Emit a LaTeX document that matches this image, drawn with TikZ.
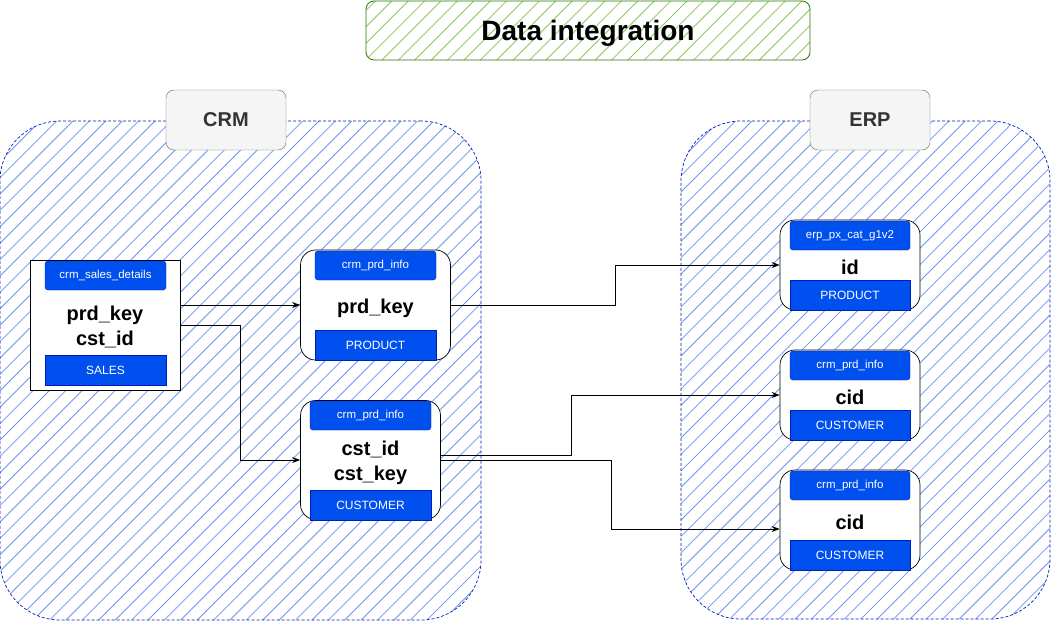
\documentclass[tikz,border=0pt]{standalone}
\usepackage{fontspec}
\setmainfont{Liberation Sans}
\usetikzlibrary{arrows.meta}

\definecolor{zoneblue}{RGB}{0,29,188}
\definecolor{hatchblue}{RGB}{108,150,240}
\definecolor{boxblue}{RGB}{0,80,239}
\definecolor{titlegreen}{RGB}{45,118,0}
\definecolor{hatchgreen}{RGB}{140,200,95}

\begin{document}
\begin{tikzpicture}[x=1pt,y=-1pt,
    zone/.style={draw=zoneblue,dash pattern=on 3pt off 2pt,line width=0.7pt,
        rounded corners=60pt,inner sep=0pt},
    syslabel/.style={draw=black!60,fill=black!4,rounded corners=8pt,text=black!80,
        font=\bfseries\fontsize{20}{24}\selectfont,minimum width=120pt,minimum height=60pt},
    tablebox/.style={draw=black,fill=white,line width=0.7pt,rounded corners=15pt,inner sep=0pt},
    tabhead/.style={draw=zoneblue,fill=boxblue,text=white,rounded corners=3pt,
        font=\fontsize{11.5}{13}\selectfont,minimum height=29pt,inner sep=0pt},
    tabfoot/.style={draw=zoneblue,fill=boxblue,text=white,
        font=\fontsize{12}{14}\selectfont,minimum height=30pt,inner sep=0pt},
    fieldtext/.style={font=\bfseries\fontsize{20}{25}\selectfont,align=center,inner sep=0pt},
    flow/.style={draw=black,line width=0.7pt,-{Stealth[length=8pt,width=6pt]}}]

    \fill[white] (0,0) rectangle (1051,621);
    \useasboundingbox (0,0) rectangle (1051,621);

    % hatching
    \begin{scope}
        \clip[rounded corners=8pt] (366,1) rectangle (810,60);
        \foreach \k in {360,376.4,...,880}
            \draw[hatchgreen,line width=0.8pt] (\k,0) -- ++(-70,70);
    \end{scope}
    \begin{scope}
        \clip[rounded corners=60pt] (0,121) rectangle (481,620);
        \foreach \k in {112,128.4,...,1110}
            \draw[hatchblue,line width=0.8pt] (\k,0) -- ++(-700,700);
    \end{scope}
    \begin{scope}
        \clip[rounded corners=60pt] (681,121) rectangle (1050,619);
        \foreach \k in {791,807.4,...,1680}
            \draw[hatchblue,line width=0.8pt] (\k,0) -- ++(-700,700);
    \end{scope}

    % title
    \node[draw=titlegreen,line width=0.8pt,rounded corners=8pt,text depth=0pt,
          minimum width=444pt,minimum height=59pt,font=\bfseries\fontsize{28}{32}\selectfont]
          (title) at (588,30.5) {Data integration};

    % systems
    \node[zone,minimum width=481pt,minimum height=499pt] (crmzone) at (240.5,370.5) {};
    \node[zone,minimum width=369pt,minimum height=498pt] (erpzone) at (865.5,370) {};
    \node[syslabel] (crmlabel) at (226,120) {CRM};
    \node[syslabel] (erplabel) at (870,120) {ERP};

    % crm tables
    \node[tablebox,rounded corners=0pt,minimum width=150pt,minimum height=130pt] (sales) at (105,325.5) {};
    \node[tabhead,minimum width=121pt] (saleshead) at (105.5,275.5) {crm\_sales\_details};
    \node[fieldtext] (salesfields) at (105,327) {prd\_key\\cst\_id};
    \node[tabfoot,minimum width=121pt] (salesfoot) at (105.5,370.5) {SALES};

    \node[tablebox,minimum width=150pt,minimum height=110pt] (prd) at (375.5,305) {};
    \node[tabhead,minimum width=121pt] (prdhead) at (375.5,265.5) {crm\_prd\_info};
    \node[fieldtext] (prdfields) at (375.5,308) {prd\_key};
    \node[tabfoot,minimum width=121pt] (prdfoot) at (375.5,345) {PRODUCT};

    \node[tablebox,minimum width=140pt,minimum height=119pt] (cust) at (370.5,460) {};
    \node[tabhead,minimum width=121pt] (custhead) at (370.5,415.5) {crm\_prd\_info};
    \node[fieldtext] (custfields) at (370.5,463) {cst\_id\\cst\_key};
    \node[tabfoot,minimum width=121pt] (custfoot) at (370.5,505) {CUSTOMER};

    % erp tables
    \node[tablebox,minimum width=140pt,minimum height=90pt] (erpid) at (850,265) {};
    \node[tabhead,minimum width=120pt] (erpidhead) at (850,235.5) {erp\_px\_cat\_g1v2};
    \node[fieldtext] (erpidfields) at (850,267) {id};
    \node[tabfoot,minimum width=120pt] (erpidfoot) at (850,295) {PRODUCT};

    \node[tablebox,minimum width=140pt,minimum height=90pt] (cidone) at (850,395) {};
    \node[tabhead,minimum width=120pt] (cidonehead) at (850,365.5) {crm\_prd\_info};
    \node[fieldtext] (cidonefields) at (850,397) {cid};
    \node[tabfoot,minimum width=120pt] (cidonefoot) at (850,425) {CUSTOMER};

    \node[tablebox,minimum width=140pt,minimum height=100pt] (cidtwo) at (850,520) {};
    \node[tabhead,minimum width=120pt] (cidtwohead) at (850,485.5) {crm\_prd\_info};
    \node[fieldtext] (cidtwofields) at (850,522) {cid};
    \node[tabfoot,minimum width=120pt] (cidtwofoot) at (850,555) {CUSTOMER};

    % links
    \draw[flow] (sales.east |- prd.west) -- (prd.west);
    \draw[flow] (sales.east) -- ++(60,0) |- (cust.west);
    \draw[flow] (prd.east) -- ++(164,0) |- (erpid.west);
    \draw[flow] ([yshift=5pt]cust.east) -- ++(130,0) |- (cidone.west);
    \draw[flow] (cust.east) -- ++(170,0) |- ([yshift=-9pt]cidtwo.west);
\end{tikzpicture}
\end{document}
